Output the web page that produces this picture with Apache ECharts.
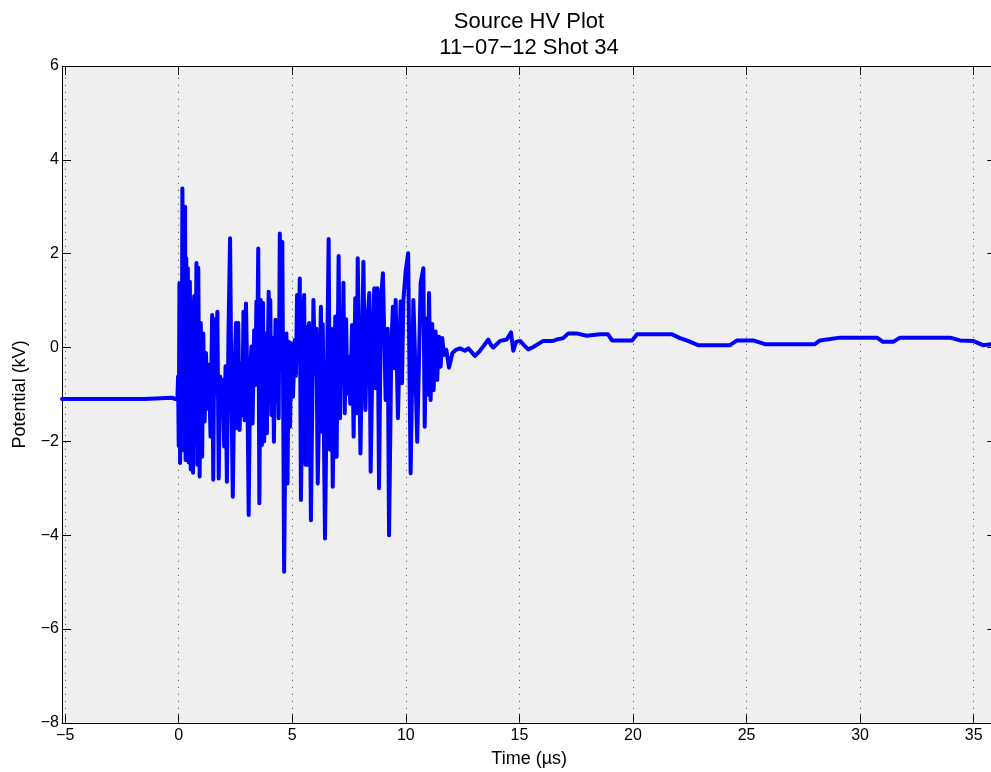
<!DOCTYPE html>
<html>
<head>
<meta charset="utf-8">
<title>Source HV Plot</title>
<script src="https://cdn.jsdelivr.net/npm/echarts@6/dist/echarts.min.js"></script>
<style>
  html, body { margin: 0; padding: 0; background: #ffffff; }
  #chart { width: 991px; height: 772px; }
</style>
</head>
<body>
<div id="chart"></div>
<script>
// Source HV probe trace, 11-07-12 shot 34: time (µs) and potential (kV)
const timeUs = [
  -5.14, -1.5, -0.3, -0.15, -0.06,
  -0.03, 0.00, 0.03, 0.06, 0.10, 0.13, 0.16, 0.21, 0.24, 0.28,
  0.30, 0.33, 0.36, 0.40, 0.44, 0.49, 0.53, 0.58, 0.63, 0.68,
  0.72, 0.78, 0.82, 0.86, 0.92, 0.97, 1.03, 1.08, 1.14, 1.20,
  1.26, 1.32, 1.40, 1.47, 1.52, 1.57, 1.64, 1.70, 1.76, 1.82,
  1.89, 1.94, 2.00, 2.06, 2.12, 2.19, 2.26, 2.32, 2.38, 2.45,
  2.52, 2.57, 2.62, 2.68, 2.76, 2.80, 2.85, 2.90, 2.96, 3.02,
  3.08, 3.14, 3.20, 3.25, 3.32, 3.37, 3.42, 3.45, 3.50, 3.55,
  3.61, 3.66, 3.71, 3.76, 3.81, 3.88, 3.96, 4.00, 4.03, 4.08,
  4.14, 4.19, 4.26, 4.30, 4.36, 4.40, 4.45, 4.52, 4.56, 4.64,
  4.70, 4.74, 4.79, 4.84, 4.90, 4.96, 5.03, 5.11, 5.16, 5.21,
  5.27, 5.33, 5.38, 5.44, 5.48, 5.52, 5.58, 5.65, 5.70, 5.74,
  5.82, 5.93, 6.00, 6.06, 6.12, 6.26, 6.30, 6.34, 6.44, 6.60,
  6.66, 6.72, 6.78, 6.89, 6.95, 7.04, 7.10, 7.15, 7.20, 7.25,
  7.31, 7.37, 7.42, 7.48, 7.55, 7.63, 7.70, 7.77, 7.83, 7.88,
  8.00, 8.13, 8.22, 8.30, 8.39, 8.45, 8.55, 8.61, 8.67, 8.75,
  8.82, 8.90, 8.99, 9.11, 9.20, 9.26, 9.36, 9.43, 9.50, 9.55,
  9.65, 9.77, 9.83, 9.89, 9.99, 10.10, 10.21, 10.33, 10.38, 10.50,
  10.65, 10.77, 10.83, 10.90, 10.96, 11.02, 11.09, 11.16, 11.22, 11.31,
  11.38, 11.46, 11.53, 11.60, 11.68, 11.78, 11.90, 12.05, 12.20, 12.38,
  12.60, 12.75, 13.04, 13.26, 13.45, 13.63, 13.75, 13.85, 14.15, 14.44,
  14.63, 14.73, 14.85, 15.03, 15.20, 15.39, 15.61, 16.05, 16.49, 16.64,
  16.93, 17.15, 17.52, 17.96, 18.55, 18.90, 19.08, 19.96, 20.18, 21.72,
  22.07, 22.42, 22.86, 24.27, 24.58, 25.29, 25.81, 28.01, 28.23, 29.11,
  30.74, 31.01, 31.45, 31.76, 33.96, 34.40, 34.97, 35.41, 36.00
];

const potentialKv = [
  -1.10, -1.10, -1.07, -1.10, -1.10,
  -0.62, -2.10, 1.37, -2.46, 0.80, -2.20, 3.39, 3.39, -1.20, 3.00,
  -2.40, 1.90, -2.30, 1.69, -2.45, 1.40, -2.60, 0.98, -2.67, 1.10,
  -1.60, 1.80, -2.50, 1.70, -2.75, 0.52, -2.33, 0.30, -1.58, -0.12,
  -1.30, -0.37, -1.90, 0.69, -2.82, 0.60, -1.00, 0.76, -2.79, -0.62,
  -1.26, -0.69, -2.11, -0.40, -2.86, 0.30, 2.33, -1.00, -3.18, -0.60,
  0.52, -1.72, 0.52, -1.76, -0.33, -1.44, 0.76, -1.55, 0.94, -0.80,
  -3.57, -0.60, 0.02, -1.62, 0.37, -0.80, 0.98, -0.40, 2.11, -3.32,
  1.01, -2.08, 0.95, -2.00, 0.30, -1.83, 1.19, -0.50, 1.01, -1.44,
  0.20, -2.01, 0.59, -1.16, 0.40, -1.51, 2.43, 0.40, 2.25, -4.78,
  -1.50, 0.30, -2.90, 0.12, -1.69, 0.09, -1.05, 0.16, -0.60, 1.12,
  -0.30, 1.47, -3.25, -0.98, 0.50, 1.12, -2.50, 0.44, -2.50, 0.52,
  -3.68, 1.01, -0.55, 0.40, -2.90, 0.87, -1.79, 0.50, -4.07, 2.31,
  -2.18, 0.40, -2.97, 0.66, -2.33, 1.95, -1.51, 0.60, -0.80, 1.38,
  -1.40, 0.60, -0.98, -0.20, -1.20, 0.48, -1.90, 1.05, -1.40, 1.90,
  -2.26, 1.83, -1.33, 0.50, 1.16, -2.65, 0.40, 1.26, -0.87, 1.26,
  -3.00, 1.01, 1.58, -1.12, 0.40, -4.00, 0.02, 0.87, -0.44, 1.01,
  -1.51, 0.98, -0.76, 1.00, 1.62, 2.01, -2.68, 1.01, 0.23, -2.01,
  1.37, 1.69, -1.69, 0.62, -1.00, 1.16, -1.12, 0.50, -0.91, 0.34,
  -0.69, 0.23, -0.41, 0.20, -0.16, -0.05, -0.43, -0.12, -0.05, -0.02,
  -0.07, -0.02, -0.18, -0.07, 0.05, 0.17, 0.05, 0.00, 0.14, 0.17,
  0.32, -0.07, 0.12, 0.14, 0.05, -0.04, 0.01, 0.14, 0.14, 0.17,
  0.20, 0.30, 0.30, 0.25, 0.28, 0.28, 0.15, 0.15, 0.28, 0.28,
  0.20, 0.14, 0.05, 0.05, 0.15, 0.15, 0.07, 0.07, 0.15, 0.21,
  0.21, 0.12, 0.12, 0.21, 0.21, 0.15, 0.14, 0.05, 0.08
];

// Axis ranges and tick positions
const xRange = [-5.14, 36];
const xTicks = [-5, 0, 5, 10, 15, 20, 25, 30, 35];
const yRange = [-8, 6];
const yStep = 2;

const titleLines = ['Source HV Plot', '11\u221207\u221212 Shot 34'];
const xName = 'Time (\u00b5s)';
const yName = 'Potential (kV)';

const FONT = "'Liberation Sans', Arial, Helvetica, sans-serif";
const minus = v => String(v).replace('-', '\u2212');

const tickStyle = { show: true, inside: true, length: 9, lineStyle: { color: '#000', width: 1 } };
const lineStyle = { show: true, onZero: false, lineStyle: { color: '#000', width: 1 } };

const chart = echarts.init(document.getElementById('chart'), null, { renderer: 'canvas' });

chart.setOption({
  animation: false,
  backgroundColor: '#ffffff',
  title: {
    text: titleLines.join('\n'),
    left: 529,
    top: 9,
    padding: 0,
    textAlign: 'center',
    textStyle: {
      fontFamily: FONT, fontSize: 22, fontWeight: 'normal',
      color: '#000', lineHeight: 26
    }
  },
  grid: {
    left: 62, right: -5.4, top: 66, bottom: 49.2,
    containLabel: false,
    outerBoundsMode: 'none',
    show: true,
    backgroundColor: '#efefef',
    borderWidth: 0
  },
  xAxis: [
    {
      type: 'value',
      position: 'bottom',
      min: xRange[0], max: xRange[1],
      axisLine: lineStyle,
      axisTick: Object.assign({ customValues: xTicks }, tickStyle),
      axisLabel: {
        customValues: xTicks,
        formatter: minus,
        margin: 5,
        fontFamily: FONT, fontSize: 16, color: '#000'
      },
      splitLine: { show: false },
      name: xName,
      nameLocation: 'middle',
      nameGap: 27,
      nameTextStyle: { fontFamily: FONT, fontSize: 18, color: '#000' }
    },
    {
      type: 'value',
      position: 'top',
      min: xRange[0], max: xRange[1],
      axisLine: lineStyle,
      axisTick: Object.assign({ customValues: xTicks }, tickStyle),
      axisLabel: { show: false },
      splitLine: { show: false }
    }
  ],
  yAxis: [
    {
      type: 'value',
      position: 'left',
      min: yRange[0], max: yRange[1], interval: yStep,
      axisLine: lineStyle,
      axisTick: tickStyle,
      axisLabel: {
        formatter: minus,
        margin: 3,
        fontFamily: FONT, fontSize: 16, color: '#000'
      },
      splitLine: { show: false },
      name: yName,
      nameLocation: 'middle',
      nameGap: 33,
      nameRotate: 90,
      nameTextStyle: { fontFamily: FONT, fontSize: 18, color: '#000' }
    },
    {
      type: 'value',
      position: 'right',
      min: yRange[0], max: yRange[1], interval: yStep,
      axisLine: lineStyle,
      axisTick: tickStyle,
      axisLabel: { show: false },
      splitLine: { show: false }
    }
  ],
  series: [
    {
      type: 'line',
      xAxisIndex: 0,
      yAxisIndex: 0,
      data: timeUs.map((t, i) => [t, potentialKv[i]]),
      showSymbol: false,
      symbol: 'none',
      clip: true,
      z: 3,
      lineStyle: { color: '#0000ff', width: 4, join: 'round', cap: 'round' },
      itemStyle: { color: '#0000ff' },
      // dotted vertical grid lines at each labelled time tick
      markLine: {
        silent: true,
        z: 1,
        animation: false,
        symbol: ['none', 'none'],
        label: { show: false },
        emphasis: { disabled: true },
        lineStyle: { color: '#444', width: 1, type: [1, 6] },
        data: xTicks.map(v => ({ xAxis: v }))
      }
    }
  ]
});
</script>
</body>
</html>
